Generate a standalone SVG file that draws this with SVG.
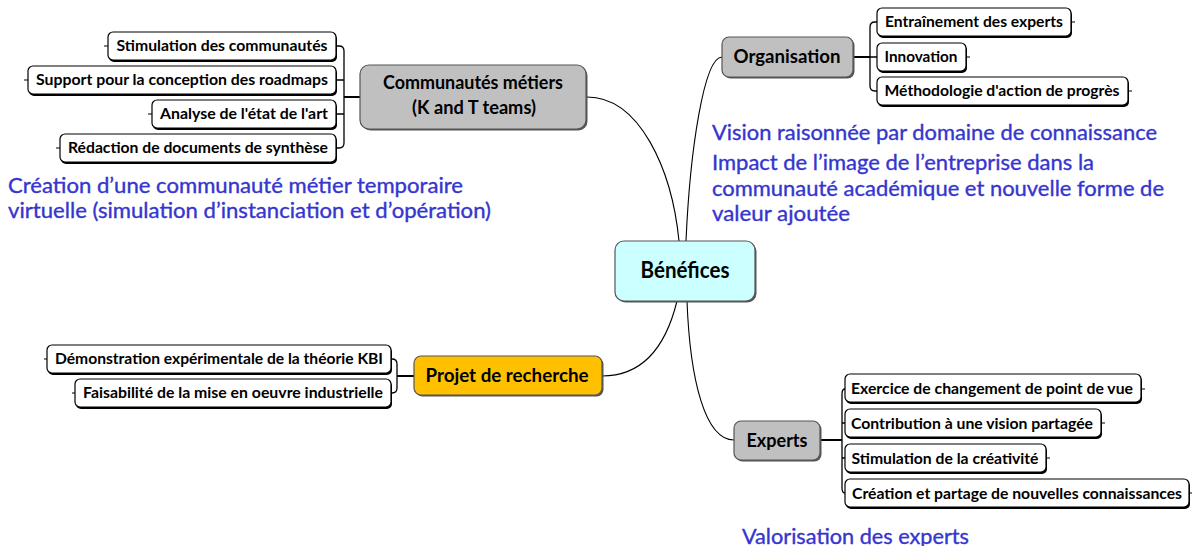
<svg xmlns="http://www.w3.org/2000/svg" width="1192" height="546" viewBox="0 0 1192 546">
<style>
.leaf rect.s{fill:#000;stroke:none}
.leaf rect.b{fill:#fff;stroke:#000;stroke-width:1.2}
.leaf text{font-family:Lato,"Liberation Sans",sans-serif;font-weight:bold;font-size:15px;fill:#000;text-anchor:middle}
.main rect.s{fill:#555;stroke:none}
.main rect.b{stroke:#555;stroke-width:1.2}
.main text{font-family:Lato,"Liberation Sans",sans-serif;font-weight:bold;fill:#000;text-anchor:middle}
.gray{fill:#C0C0C0}
.note{font-family:Lato,"Liberation Sans",sans-serif;font-size:21px;fill:#3535CF;stroke:#3535CF;stroke-width:0.35}
.conn path{fill:none;stroke:#000;stroke-width:1.1}
.conn path.br{stroke-width:1.3}
.conn path.tk{stroke-width:2}
</style>
<g class="conn" id="connectors">
<path d="M587,97 C640,97 672,170 679,241"/>
<path d="M722,57 C704,57 690,150 686,241"/>
<path d="M677,301 C665,350 640,376 602,376"/>
<path d="M687,301 C690,380 705,440 734,440"/>
<path class="tk" d="M360,97 H344"/>
<path class="br" d="M336,46 H339 Q344,46 344,51 V143 Q344,148 339,148 H336 M336,80 H344 M336,114 H344"/>
<path d="M108,46 H104 M28,80 H24 M152,114 H148 M60,148 H56"/>
<path class="tk" d="M853,57 H870"/>
<path class="br" d="M877,22 H875 Q870,22 870,27 V86 Q870,91 875,91 H877 M870,57 H877"/>
<path d="M1071,22 H1075 M966,57 H970 M1128,91 H1132"/>
<path class="tk" d="M414,376 H397"/>
<path class="br" d="M391,359 H392 Q397,359 397,364 V388 Q397,393 392,393 H391"/>
<path d="M47,359 H44 M75,393 H72"/>
<path class="tk" d="M820,440 H842"/>
<path class="br" d="M845,389 Q842,389 842,394 V488 Q842,493 845,493 M842,423 H845 M842,458 H845"/>
<path d="M1141,389 H1145 M1101,423 H1105 M1046,458 H1050 M1189,493 H1192"/>
</g>
<g id="benefices" class="main">
<rect class="s" x="616.5" y="242.5" width="140" height="60" rx="9"/>
<rect class="b" x="615" y="241" width="140" height="60" rx="9" fill="#CCFFFF"/>
<text x="685" y="278" font-size="22" textLength="89" lengthAdjust="spacingAndGlyphs">Bénéfices</text>
</g>
<g id="communautes" class="main">
<rect class="s" x="361.5" y="66.5" width="226" height="64" rx="9"/>
<rect class="b gray" x="360" y="65" width="226" height="64" rx="9"/>
<text x="473" y="89" font-size="19" textLength="180" lengthAdjust="spacingAndGlyphs">Communautés métiers</text>
<text x="474" y="114" font-size="19" textLength="124" lengthAdjust="spacingAndGlyphs">(K and T teams)</text>
</g>
<g id="organisation" class="main">
<rect class="s" x="723.5" y="38.5" width="131" height="40" rx="7"/>
<rect class="b gray" x="722" y="37" width="131" height="40" rx="7"/>
<text x="787" y="63" font-size="18" textLength="107" lengthAdjust="spacingAndGlyphs">Organisation</text>
</g>
<g id="projet" class="main">
<rect class="s" x="415.5" y="357.5" width="188" height="39" rx="7"/>
<rect class="b" x="414" y="356" width="188" height="39" rx="7" fill="#FFC000"/>
<text x="507" y="382" font-size="18" textLength="163" lengthAdjust="spacingAndGlyphs">Projet de recherche</text>
</g>
<g id="experts" class="main">
<rect class="s" x="735.5" y="422.5" width="86" height="39" rx="7"/>
<rect class="b gray" x="734" y="421" width="86" height="39" rx="7"/>
<text x="777" y="447" font-size="18" textLength="61" lengthAdjust="spacingAndGlyphs">Experts</text>
</g>
<g id="c1" class="leaf"><rect class="s" x="109" y="34" width="228" height="28" rx="5"/><rect class="b" x="108" y="32" width="228" height="28" rx="5"/><text x="222" y="51" textLength="211" lengthAdjust="spacingAndGlyphs">Stimulation des communautés</text></g>
<g id="c2" class="leaf"><rect class="s" x="29" y="68" width="308" height="28" rx="5"/><rect class="b" x="28" y="66" width="308" height="28" rx="5"/><text x="182" y="85" textLength="292" lengthAdjust="spacingAndGlyphs">Support pour la conception des roadmaps</text></g>
<g id="c3" class="leaf"><rect class="s" x="153" y="102" width="184" height="28" rx="5"/><rect class="b" x="152" y="100" width="184" height="28" rx="5"/><text x="244" y="119" textLength="168" lengthAdjust="spacingAndGlyphs">Analyse de l'état de l'art</text></g>
<g id="c4" class="leaf"><rect class="s" x="61" y="136" width="276" height="28" rx="5"/><rect class="b" x="60" y="134" width="276" height="28" rx="5"/><text x="198" y="153" textLength="260" lengthAdjust="spacingAndGlyphs">Rédaction de documents de synthèse</text></g>
<g id="o1" class="leaf"><rect class="s" x="878" y="10" width="194" height="28" rx="5"/><rect class="b" x="877" y="8" width="194" height="28" rx="5"/><text x="974" y="27" textLength="178" lengthAdjust="spacingAndGlyphs">Entraînement des experts</text></g>
<g id="o2" class="leaf"><rect class="s" x="878" y="45" width="89" height="28" rx="5"/><rect class="b" x="877" y="43" width="89" height="28" rx="5"/><text x="921" y="62" textLength="73" lengthAdjust="spacingAndGlyphs">Innovation</text></g>
<g id="o3" class="leaf"><rect class="s" x="878" y="79" width="251" height="28" rx="5"/><rect class="b" x="877" y="77" width="251" height="28" rx="5"/><text x="1002" y="96" textLength="235" lengthAdjust="spacingAndGlyphs">Méthodologie d'action de progrès</text></g>
<g id="p1" class="leaf"><rect class="s" x="48" y="347" width="344" height="28" rx="5"/><rect class="b" x="47" y="345" width="344" height="28" rx="5"/><text x="219" y="364" textLength="328" lengthAdjust="spacingAndGlyphs">Démonstration expérimentale de la théorie KBI</text></g>
<g id="p2" class="leaf"><rect class="s" x="76" y="381" width="316" height="28" rx="5"/><rect class="b" x="75" y="379" width="316" height="28" rx="5"/><text x="233" y="398" textLength="300" lengthAdjust="spacingAndGlyphs">Faisabilité de la mise en oeuvre industrielle</text></g>
<g id="e1" class="leaf"><rect class="s" x="846" y="376" width="296" height="28" rx="5"/><rect class="b" x="845" y="374" width="296" height="28" rx="5"/><text x="992" y="394" textLength="282" lengthAdjust="spacingAndGlyphs">Exercice de changement de point de vue</text></g>
<g id="e2" class="leaf"><rect class="s" x="846" y="411" width="256" height="28" rx="5"/><rect class="b" x="845" y="409" width="256" height="28" rx="5"/><text x="972" y="429" textLength="242" lengthAdjust="spacingAndGlyphs">Contribution à une vision partagée</text></g>
<g id="e3" class="leaf"><rect class="s" x="846" y="446" width="201" height="28" rx="5"/><rect class="b" x="845" y="444" width="201" height="28" rx="5"/><text x="945" y="464" textLength="187" lengthAdjust="spacingAndGlyphs">Stimulation de la créativité</text></g>
<g id="e4" class="leaf"><rect class="s" x="846" y="481" width="344" height="28" rx="5"/><rect class="b" x="845" y="479" width="344" height="28" rx="5"/><text x="1017" y="499" textLength="330" lengthAdjust="spacingAndGlyphs">Création et partage de nouvelles connaissances</text></g>
<g id="notes">
<text class="note" x="8" y="193" textLength="455" lengthAdjust="spacingAndGlyphs">Création d’une communauté métier temporaire</text>
<text class="note" x="8" y="218" textLength="483" lengthAdjust="spacingAndGlyphs">virtuelle (simulation d’instanciation et d’opération)</text>
<text class="note" x="712" y="140" textLength="445" lengthAdjust="spacingAndGlyphs">Vision raisonnée par domaine de connaissance</text>
<text class="note" x="712" y="170" textLength="382" lengthAdjust="spacingAndGlyphs">Impact de l’image de l’entreprise dans la</text>
<text class="note" x="712" y="196" textLength="452" lengthAdjust="spacingAndGlyphs">communauté académique et nouvelle forme de</text>
<text class="note" x="712" y="221" textLength="138" lengthAdjust="spacingAndGlyphs">valeur ajoutée</text>
<text class="note" x="742" y="544" textLength="227" lengthAdjust="spacingAndGlyphs">Valorisation des experts</text>
</g>
</svg>
